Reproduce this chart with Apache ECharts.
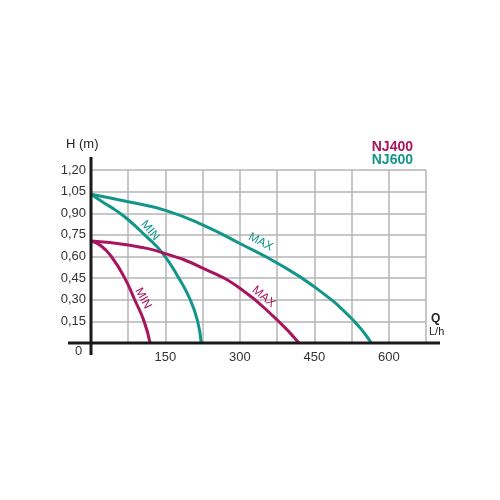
<!DOCTYPE html>
<html>
<head>
<meta charset="utf-8">
<script src="https://cdn.jsdelivr.net/npm/echarts@6/dist/echarts.min.js"></script>
<style>html,body{margin:0;padding:0;background:#fff}#c{width:500px;height:500px}</style>
</head>
<body>
<div id="c"></div>
<script>
var xTicks = [0, 75, 150, 225, 300, 375, 450, 525, 600, 675];
var xLabels = ['0', '', '150', '', '300', '', '450', '', '600', ''];
var yTicks = [0, 0.15, 0.30, 0.45, 0.60, 0.75, 0.90, 1.05, 1.20];
var nj600Max = [[0,1.032],[75,0.98],[150,0.92],[225,0.82],[300,0.69],[375,0.555],[450,0.39],[525,0.17],[565,0]];
var nj600Min = [[0,1.032],[25,0.975],[50,0.92],[75,0.855],[108,0.75],[144,0.623],[177,0.45],[200,0.30],[215,0.15],[222,0]];
var nj400Max = [[0,0.708],[75,0.68],[150,0.62],[225,0.52],[300,0.38],[375,0.16],[419,0]];
var nj400Min = [[0,0.708],[20,0.675],[41,0.60],[68,0.45],[88,0.30],[107,0.15],[119,0]];
var TEAL = '#13968a', MAG = '#a8155e';

function lbl(text, coord, rot, color) {
  return {
    symbol: 'circle', symbolSize: 1, itemStyle: {color: 'rgba(0,0,0,0)'},
    silent: true,
    data: [{coord: coord, value: text}],
    label: {show: true, formatter: text, rotate: rot, color: color, fontSize: 12, fontFamily: 'Liberation Sans, Arial', position: 'inside'}
  };
}
function ser(name, data, color, labelText, coord, rot) {
  return {
    name: name, type: 'line', data: data, smooth: true, symbol: 'none',
    lineStyle: {color: color, width: 3}, itemStyle: {color: color},
    markPoint: lbl(labelText, coord, rot, color), z: 3
  };
}
var chart = echarts.init(document.getElementById('c'));
var L = 91, T = 170, R = 426, B = 343;
chart.setOption({
  animation: false,
  grid: {left: L, top: T, width: R - L, height: B - T},
  xAxis: {
    type: 'value', min: 0, max: 675, interval: 75,
    axisLine: {show: false}, axisTick: {show: false},
    axisLabel: {color: '#333', fontSize: 13, fontFamily: 'Liberation Sans, Arial', margin: 8,
      formatter: function (v) { var i = xTicks.indexOf(v); return (i > 0) ? xLabels[i] : ''; }},
    splitLine: {show: true, lineStyle: {color: '#b4b4b4', width: 1.5}}
  },
  yAxis: {
    type: 'value', min: 0, max: 1.2, interval: 0.15,
    axisLine: {show: false}, axisTick: {show: false},
    axisLabel: {color: '#333', fontSize: 13, fontFamily: 'Liberation Sans, Arial', margin: 5,
      formatter: function (v) { if (v === 0) return ''; return v.toFixed(2).replace('.', ','); }},
    splitLine: {show: true, lineStyle: {color: '#b4b4b4', width: 1.5}}
  },
  series: [
    ser('NJ600 MAX', nj600Max, TEAL, 'MAX', [342, 0.70], -28),
    ser('NJ600 MIN', nj600Min, TEAL, 'MIN', [119, 0.78], -50),
    ser('NJ400 MAX', nj400Max, MAG, 'MAX', [348, 0.32], -40),
    ser('NJ400 MIN', nj400Min, MAG, 'MIN', [105, 0.31], -62)
  ],
  graphic: [
    {type: 'line', shape: {x1: 68, y1: B, x2: 440, y2: B}, style: {stroke: '#1a1a1a', lineWidth: 3}, z: 10},
    {type: 'line', shape: {x1: L, y1: 157, x2: L, y2: 355}, style: {stroke: '#1a1a1a', lineWidth: 3}, z: 10},
    {type: 'text', left: 66, top: 138, style: {text: 'H (m)', fill: '#222', font: '13px Liberation Sans, Arial'}},
    {type: 'text', left: 75, top: 345, style: {text: '0', fill: '#333', font: '13px Liberation Sans, Arial'}},
    {type: 'text', right: 87, top: 140, style: {text: 'NJ400', fill: MAG, font: 'bold 14px Liberation Sans, Arial'}},
    {type: 'text', right: 87, top: 153, style: {text: 'NJ600', fill: TEAL, font: 'bold 14px Liberation Sans, Arial'}},
    {type: 'text', left: 431, top: 313, style: {text: 'Q', fill: '#222', font: 'bold 12px Liberation Sans, Arial'}},
    {type: 'text', left: 429, top: 326, style: {text: 'L/h', fill: '#222', font: '11px Liberation Sans, Arial'}}
  ]
});
</script>
</body>
</html>
